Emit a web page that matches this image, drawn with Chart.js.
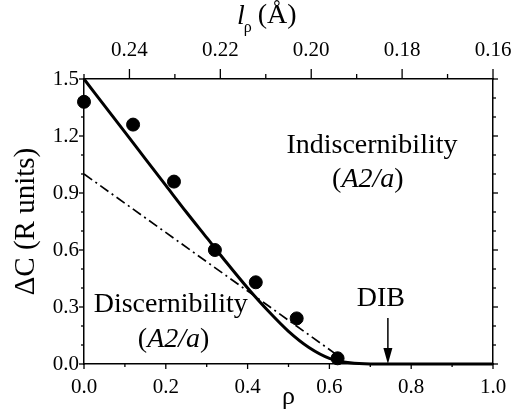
<!DOCTYPE html>
<html>
<head>
<meta charset="utf-8">
<script src="https://cdn.jsdelivr.net/npm/chart.js@4"></script>
<style>
html,body{margin:0;padding:0;background:#fff;}
#wrap{width:511px;height:415px;position:relative;}
</style>
</head>
<body>
<div id="wrap"><canvas id="c" width="511" height="415"></canvas></div>
<script>
// ---- data ----
const curveRho = [0, 0.05, 0.1, 0.15, 0.2, 0.25, 0.3, 0.35, 0.4, 0.45, 0.5, 0.55, 0.6, 0.65, 0.7, 0.75, 0.8, 0.9, 1.0];
const curveVal = [1.5, 1.36, 1.22, 1.08, 0.94, 0.80, 0.665, 0.530, 0.400, 0.280, 0.172, 0.087, 0.030, 0.006, 0, 0, 0, 0, 0];
const dashRho = [0, 0.63];
const dashVal = [1.0, 0.03];
const ptsRho = [0, 0.12, 0.22, 0.32, 0.42, 0.52, 0.62];
const ptsVal = [1.38, 1.26, 0.96, 0.60, 0.43, 0.24, 0.03];

const xTicks = [0, 0.2, 0.4, 0.6, 0.8, 1.0];
const xMinor = [0.1, 0.3, 0.5, 0.7, 0.9];
const yTicks = [0, 0.3, 0.6, 0.9, 1.2, 1.5];
const yMinor = [0.1, 0.2, 0.4, 0.5, 0.7, 0.8, 1.0, 1.1, 1.3, 1.4];
const topTicks = [0.24, 0.22, 0.20, 0.18, 0.16];
const topMinor = [0.25, 0.23, 0.21, 0.19, 0.17];

const SERIF = '"Liberation Serif", "DejaVu Serif", serif';

const tickFont = {family: SERIF, size: 21};

function toXY(xs, ys){ return xs.map((v,i)=>({x:v, y:ys[i]})); }

const tickMarks = {
  id: 'tickMarks',
  afterDraw(chart){
    const ctx = chart.ctx;
    const {x, y, x2, y2} = chart.scales;
    const a = chart.chartArea;
    ctx.save();
    ctx.strokeStyle = '#000';
    ctx.lineWidth = 1.3;
    function hTick(scale, v, yPos, len){
      const px = scale.getPixelForValue(v);
      ctx.beginPath(); ctx.moveTo(px, yPos); ctx.lineTo(px, yPos + len); ctx.stroke();
    }
    function vTick(scale, v, xPos, len){
      const py = scale.getPixelForValue(v);
      ctx.beginPath(); ctx.moveTo(xPos, py); ctx.lineTo(xPos + len, py); ctx.stroke();
    }
    xTicks.forEach(v=>hTick(x, v, a.bottom, 5));
    xMinor.forEach(v=>hTick(x, v, a.bottom, 3));
    topTicks.forEach(v=>hTick(x2, v, a.top, -10));
    topMinor.forEach(v=>hTick(x2, v, a.top, -5));
    yTicks.forEach(v=>vTick(y, v, a.left, -5));
    yMinor.forEach(v=>vTick(y, v, a.left, -3));
    yTicks.forEach(v=>vTick(y2, v, a.right, 5));
    yMinor.forEach(v=>vTick(y2, v, a.right, 3));
    ctx.restore();
  }
};

function drawMixed(ctx, parts, cx, baseline){
  let w = 0;
  parts.forEach(p=>{ ctx.font = p.font; p.w = ctx.measureText(p.t).width; w += p.w; });
  let xx = cx - w/2;
  ctx.textAlign = 'left';
  ctx.textBaseline = 'alphabetic';
  parts.forEach(p=>{ ctx.font = p.font; ctx.fillText(p.t, xx, baseline); xx += p.w; });
}

const annotations = {
  id: 'annotations',
  afterDatasetsDraw(chart){
    const ctx = chart.ctx;
    const {x, y} = chart.scales;
    const a = chart.chartArea;
    ctx.save();
    ctx.fillStyle = '#000';
    const up = '28px ' + SERIF;
    const it = 'italic 28px ' + SERIF;
    drawMixed(ctx, [{t:'Indiscernibility', font: up}], x.getPixelForValue(0.704), y.getPixelForValue(1.11));
    drawMixed(ctx, [{t:'(', font: up}, {t:'A2/a', font: it}, {t:')', font: up}], x.getPixelForValue(0.694), y.getPixelForValue(0.93));
    drawMixed(ctx, [{t:'Discernibility', font: up}], x.getPixelForValue(0.212), y.getPixelForValue(0.274));
    drawMixed(ctx, [{t:'(', font: up}, {t:'A2/a', font: it}, {t:')', font: up}], x.getPixelForValue(0.219), y.getPixelForValue(0.088));
    drawMixed(ctx, [{t:'DIB', font: up}], x.getPixelForValue(0.726), y.getPixelForValue(0.305));
    // arrow
    const ax = x.getPixelForValue(0.743);
    const ay0 = y.getPixelForValue(0.242);
    const ay1 = y.getPixelForValue(0.0);
    ctx.strokeStyle = '#000';
    ctx.lineWidth = 1.5;
    ctx.beginPath(); ctx.moveTo(ax, ay0); ctx.lineTo(ax, ay1 - 10); ctx.stroke();
    ctx.beginPath(); ctx.moveTo(ax - 4.5, ay1 - 16); ctx.lineTo(ax + 4.5, ay1 - 16); ctx.lineTo(ax, ay1); ctx.closePath(); ctx.fill();
    // top title  l_rho (Å)
    ctx.textAlign = 'left';
    ctx.textBaseline = 'alphabetic';
    const sx = a.left + 153;
    ctx.font = 'italic 28px ' + SERIF;
    const lw = ctx.measureText('l').width;
    ctx.fillText('l', sx, 24);
    ctx.font = '16px ' + SERIF;
    const rw = ctx.measureText('\u03c1').width;
    ctx.fillText('\u03c1', sx + lw - 1, 32);
    ctx.font = '28px ' + SERIF;
    ctx.fillText(' (\u00c5)', sx + lw + rw - 2, 23);
    ctx.restore();
  }
};

const noPadH = s => { s.paddingLeft = 0; s.paddingRight = 0; };

new Chart(document.getElementById('c'), {
  type: 'scatter',
  data: {
    datasets: [
      {
        type: 'line',
        data: toXY(curveRho, curveVal),
        borderColor: '#000',
        borderWidth: 3,
        pointRadius: 0,
        fill: false,
        cubicInterpolationMode: 'monotone',
        clip: false,
        order: 2
      },
      {
        type: 'line',
        data: toXY(dashRho, dashVal),
        borderColor: '#000',
        borderWidth: 1.7,
        borderDash: [10, 4, 2, 4],
        pointRadius: 0,
        fill: false,
        clip: false,
        order: 3
      },
      {
        type: 'scatter',
        data: toXY(ptsRho, ptsVal),
        backgroundColor: '#000',
        borderColor: '#000',
        pointRadius: 6.5,
        pointHoverRadius: 6.5,
        clip: false,
        order: 1
      }
    ]
  },
  options: {
    responsive: false,
    animation: false,
    events: [],
    layout: {padding: 0},
    plugins: {legend: {display: false}, tooltip: {enabled: false}},
    scales: {
      x: {
        type: 'linear', position: 'bottom', min: 0, max: 1,
        afterBuildTicks: s => { s.ticks = xTicks.map(v=>({value:v})); },
        afterFit: s => { s.height = 51; noPadH(s); },
        ticks: {font: tickFont, color: '#000', padding: 11, maxRotation: 0, autoSkip: false,
                callback: v => Number(v).toFixed(1)},
        grid: {display: false, drawTicks: false},
        border: {display: true, color: '#000', width: 1.5},
        title: {display: true, text: '\u03c1', font: {family: SERIF, size: 26}, color: '#000', padding: {top: 0, bottom: 2}}
      },
      x2: {
        type: 'linear', position: 'top', min: 0.16, max: 0.25, reverse: true,
        afterBuildTicks: s => { s.ticks = topTicks.map(v=>({value:v})); },
        afterFit: s => { s.height = 79; noPadH(s); },
        ticks: {font: tickFont, color: '#000', padding: 16, maxRotation: 0, autoSkip: false,
                callback: v => Number(v).toFixed(2)},
        grid: {display: false, drawTicks: false},
        border: {display: true, color: '#000', width: 1.5}
      },
      y: {
        type: 'linear', position: 'left', min: 0, max: 1.5,
        afterBuildTicks: s => { s.ticks = yTicks.map(v=>({value:v})); },
        afterFit: s => { s.width = 84; },
        ticks: {font: tickFont, color: '#000', padding: 5, autoSkip: false,
                callback: v => Number(v).toFixed(1)},
        grid: {display: false, drawTicks: false},
        border: {display: true, color: '#000', width: 1.5},
        title: {display: true, text: '\u0394C (R units)', font: {family: SERIF, size: 29}, color: '#000', padding: {top: 9, bottom: 0}}
      },
      y2: {
        type: 'linear', position: 'right', min: 0, max: 1.5,
        afterBuildTicks: s => { s.ticks = yTicks.map(v=>({value:v})); },
        afterFit: s => { s.width = 18; },
        ticks: {display: false},
        grid: {display: false, drawTicks: false},
        border: {display: true, color: '#000', width: 1.5}
      }
    }
  },
  plugins: [tickMarks, annotations]
});
</script>
</body>
</html>
